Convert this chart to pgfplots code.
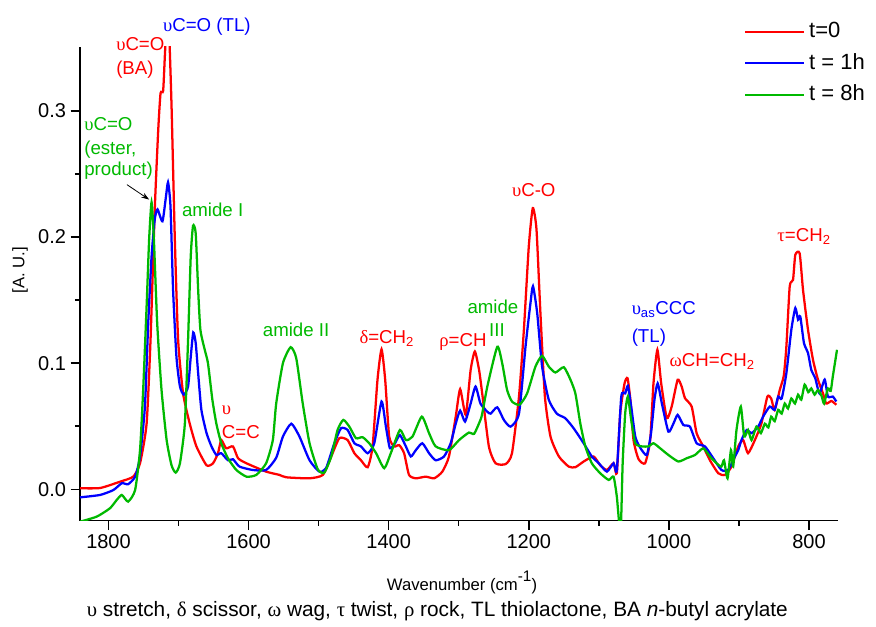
\documentclass[border=0pt]{standalone}
\usepackage{fontspec}
\setmainfont{Liberation Sans}
\newfontfamily\grk{Liberation Serif}
\usepackage{pgfplots}
\pgfplotsset{compat=1.18}
\usetikzlibrary{arrows.meta}
\definecolor{cred}{RGB}{255,0,0}
\definecolor{cblue}{RGB}{0,0,255}
\definecolor{cgreen}{RGB}{0,185,0}
\begin{document}
\begin{tikzpicture}
\begin{axis}[
  at={(0,0)}, anchor=south west,
  scale only axis, width=568.5pt, height=355.5pt,
  x dir=reverse,
  xmin=758.6, xmax=1840.7, ymin=-0.0249, ymax=0.351,
  axis x line*=bottom, axis y line*=left,
  axis line style={line width=1.1pt},
  every tick/.style={line width=1.1pt, black},
  tick align=outside, major tick length=7pt, minor tick length=3.8pt,
  xtick={800,1000,1200,1400,1600,1800},
  minor xtick={900,1100,1300,1500,1700},
  ytick={0,0.1,0.2,0.3},
  minor ytick={0.05,0.15,0.25},
  /pgf/number format/assume math mode=true,
  xticklabel style={font=\fontsize{15}{15}\selectfont, /pgf/number format/1000 sep={}},
  yticklabel style={font=\fontsize{15}{15}\selectfont, /pgf/number format/.cd, fixed, fixed zerofill, precision=1},
  xlabel={Wavenumber (cm\raisebox{1.0ex}{\fontsize{11.5}{11.5}\selectfont -1})},
  xlabel style={font=\fontsize{12.5}{12.5}\selectfont, at={(axis description cs:0.504,-0.147)}, anchor=base},
  ylabel={[A. U.]},
  ylabel style={font=\fontsize{12.5}{12.5}\selectfont, at={(axis description cs:-0.0792,0.529)}, anchor=center, rotate=0},
  clip mode=individual,
  every axis plot/.append style={smooth, tension=0.35, line width=1.7pt},
  legend style={draw=none, fill=none, at={(rel axis cs:0.8707,1.0669)}, anchor=north west,
    font=\fontsize{16.5}{16.5}\selectfont, row sep=2.6pt,
    nodes={inner sep=3pt, text height=12pt, text depth=3pt}},
  legend cell align=left,
  legend image code/.code={\draw[#1] (0pt,0pt) -- (44pt,0pt);},
]
\addplot[cred] coordinates {
(1840.6,0.0008) (1812,0.001) (1783.6,0.006) (1764.7,0.010) (1755,0.0206) (1745.6,0.052)
(1740,0.1185) (1733.8,0.224) (1729,0.285) (1725.7,0.314) (1722,0.316) (1719.6,0.343)
(1717,0.37) (1714,0.37) (1710,0.304) (1705.3,0.198) (1700.6,0.1185) (1693.5,0.076)
(1684,0.052) (1674.5,0.034) (1660,0.019) (1650.8,0.0206) (1643.7,0.0286) (1639,0.039)
(1632,0.0325) (1622.3,0.034) (1615,0.0246) (1603,0.0206) (1575,0.014) (1556,0.0114)
(1546.3,0.0095) (1513,0.0087) (1494,0.0114) (1482,0.026) (1470.5,0.0405) (1458.6,0.039)
(1449,0.0286) (1439.6,0.023) (1430,0.0175) (1423,0.034) (1416,0.0868) (1410.2,0.111)
(1405,0.0868) (1399.3,0.0418) (1392,0.034) (1385,0.035) (1378,0.0286) (1371,0.0114)
(1361.3,0.0087) (1347,0.010) (1335,0.0087) (1323.4,0.014) (1314,0.026) (1304.3,0.0576)
(1298,0.0794) (1290,0.059) (1283,0.0947) (1277,0.1093) (1271,0.0947) (1266.5,0.076)
(1257,0.034) (1247.4,0.0206) (1233,0.020) (1224,0.0286) (1214,0.0735) (1207,0.1265)
(1200,0.1926) (1194.3,0.223) (1189,0.206) (1183.4,0.1397) (1177,0.0735) (1169,0.0418)
(1157,0.026) (1143,0.018) (1133.5,0.0175) (1121.7,0.022) (1107.5,0.026) (1098,0.019)
(1088.5,0.0153) (1079,0.0206) (1074.3,0.0127) (1069.5,0.060) (1063.3,0.084) (1059,0.088)
(1055,0.071) (1050.5,0.039) (1043.4,0.024) (1034,0.0206) (1026.7,0.039) (1022,0.084)
(1016.4,0.1106) (1011,0.084) (1003,0.0564) (996,0.0656) (987.5,0.0868) (981.8,0.0815)
(977,0.0722) (967.5,0.0656) (960.4,0.0445) (951,0.034) (941.4,0.023) (929.5,0.0127)
(920,0.0114) (910.6,0.018) (901,0.034) (894,0.039) (887,0.0286) (877.3,0.039)
(868,0.052) (859.4,0.0735) (854,0.072) (849,0.063) (841.7,0.0788) (836,0.09)
(832.3,0.113) (827.5,0.161) (822.8,0.166) (819.5,0.186) (813.3,0.187) (808.5,0.158)
(801.4,0.1265) (794.3,0.1027) (787.2,0.087) (780,0.076) (775.4,0.068) (768,0.070) (761,0.067)
};
\addlegendentry{t=0}
\addplot[cblue] coordinates {
(1840.6,-0.0064) (1812,-0.0045) (1793,-0.0006) (1781,0.0048) (1772,0.004) (1762,0.010)
(1755,0.026) (1748,0.0656) (1743.3,0.1318) (1738.5,0.1847) (1734,0.214) (1730,0.222)
(1723,0.2125) (1718,0.232) (1715,0.2435) (1711.5,0.2244) (1707.8,0.158) (1703,0.105)
(1698,0.0815) (1692.5,0.075) (1686.4,0.0815) (1682.6,0.105) (1679,0.1244) (1675.5,0.116)
(1672,0.092) (1667.4,0.063) (1660,0.0445) (1653,0.034) (1646,0.0272) (1639,0.0286)
(1629.5,0.023) (1622.3,0.0238) (1613,0.018) (1594,0.0153) (1575,0.0153) (1560.6,0.025)
(1551,0.0418) (1539,0.052) (1527.4,0.0418) (1513,0.023) (1499,0.014) (1489.4,0.0167)
(1477.6,0.0365) (1468,0.0484) (1458.6,0.047) (1449,0.0365) (1439.6,0.034) (1430,0.0286)
(1420.6,0.0365) (1410.2,0.0696) (1404,0.0497) (1398.3,0.0325) (1391,0.0365) (1384,0.043)
(1375.5,0.034) (1368.4,0.026) (1361.3,0.031) (1352,0.0365) (1342.4,0.0286) (1333,0.023)
(1321,0.026) (1311.5,0.0365) (1304.3,0.052) (1298,0.0624) (1291,0.0537) (1283,0.068)
(1276,0.0815) (1269,0.068) (1259.4,0.0616) (1254.5,0.060) (1245,0.065) (1235.6,0.055)
(1226,0.0497) (1214,0.060) (1204.7,0.113) (1197.6,0.1477) (1194,0.161) (1188,0.1397)
(1181,0.0973) (1171.5,0.071) (1160,0.060) (1148,0.0564) (1136,0.0484) (1121.7,0.0365)
(1110,0.026) (1100,0.0206) (1088.5,0.014) (1079,0.0206) (1074.3,0.0153) (1068,0.0735)
(1062.4,0.076) (1058.6,0.082) (1053.8,0.0656) (1048,0.0418) (1041,0.033) (1031.6,0.0272)
(1025.5,0.0445) (1020.6,0.071) (1016,0.084) (1010,0.068) (1000.7,0.0457) (993.6,0.052)
(987.5,0.059) (979.4,0.051) (970,0.0497) (960.4,0.0365) (948.5,0.034) (936.7,0.0246)
(925,0.0153) (915.3,0.0153) (905.8,0.026) (901,0.031) (896.4,0.039) (889,0.047)
(882,0.0445) (872.6,0.0497) (865.5,0.0576) (856,0.0656) (849,0.063) (844,0.0735)
(839,0.072) (832.3,0.092) (825.2,0.1265) (819.5,0.1437) (815.6,0.1345) (812.4,0.137)
(807.2,0.116) (801.4,0.108) (796.7,0.0947) (791,0.088) (785,0.076) (777.6,0.087)
(773,0.0735) (766,0.0735) (761,0.0696)
};
\addlegendentry{t = 1h}
\addplot[cgreen] coordinates {
(1840.6,-0.0257) (1816.8,-0.0217) (1798,-0.0151) (1788.3,-0.0085) (1781,-0.0045) (1772,-0.0098)
(1762,-0.0006) (1755,0.031) (1750.5,0.0788) (1745.6,0.145) (1742,0.198) (1738.5,0.2276)
(1735.2,0.198) (1730.5,0.1318) (1724.3,0.0788) (1717,0.039) (1710,0.019) (1704,0.0132)
(1698,0.0206) (1691,0.052) (1686.4,0.1185) (1682.6,0.1847) (1679.3,0.209) (1675.5,0.203)
(1672,0.158) (1668.8,0.1265) (1662.6,0.1106) (1658,0.100) (1651.7,0.071) (1646,0.052)
(1639,0.0365) (1629.5,0.0246) (1617.5,0.0153) (1603,0.010) (1589,0.0114) (1575,0.0206)
(1565.4,0.039) (1560.6,0.068) (1551,0.100) (1540,0.1127) (1532,0.104) (1522.7,0.068)
(1513,0.0365) (1501.3,0.0159) (1492,0.0132) (1482,0.026) (1473,0.047) (1464.8,0.055)
(1456.2,0.0497) (1446.7,0.0405) (1437.3,0.0413) (1427.8,0.0365) (1418,0.0286) (1406.4,0.0167)
(1397,0.0286) (1384,0.047) (1375.5,0.039) (1366,0.0418) (1352.7,0.0576) (1342.4,0.0445)
(1333,0.034) (1314,0.031) (1299.6,0.039) (1285.4,0.045) (1278,0.044) (1269,0.055)
(1266.5,0.060) (1259,0.082) (1245,0.113) (1238,0.100) (1231,0.0788) (1224,0.0696)
(1213.3,0.067) (1202.4,0.076) (1190.5,0.0973) (1181,0.1058) (1171.5,0.0973) (1162,0.0926)
(1150,0.0968) (1140.6,0.087) (1133.5,0.076) (1126.4,0.052) (1119.3,0.034) (1110,0.0206)
(1098,0.0127) (1086,0.0074) (1079,0.010) (1074.3,-0.006) (1069,-0.035) (1066,0.0206)
(1062.4,0.060) (1058.6,0.0735) (1053.8,0.055) (1048,0.0365) (1038.7,0.034) (1029,0.034)
(1022,0.0365) (1012.5,0.0325) (1000.7,0.0272) (986.5,0.022) (974.7,0.0246) (962.7,0.0272)
(951,0.0325) (941.4,0.026) (932,0.0206) (925,0.018) (921.3,0.023) (916.3,0.0087)
(911.4,0.031) (908.2,0.018) (903.5,0.047) (897.3,0.0656) (892.5,0.0418) (887,0.047)
(882,0.039) (875,0.0497) (868.7,0.0445) (863,0.052) (858,0.049) (854,0.0576) (849,0.054)
(844,0.063) (839,0.060) (834.6,0.068) (830,0.064) (825.2,0.072) (820,0.068) (815.6,0.075)
(811,0.071) (806.2,0.083) (801,0.077) (796.7,0.080) (792,0.075) (787.2,0.0788) (782,0.074)
(778.5,0.068) (773,0.080) (769,0.078) (766,0.0894) (760,0.1106)
};
\addlegendentry{t = 8h}
% annotations
\node[cred, anchor=base west, inner sep=0pt, font=\fontsize{14}{14}\selectfont] at (axis cs:1789.3,0.3483) {{\grk υ}C=O};
\node[cred, anchor=base west, inner sep=0pt, font=\fontsize{14}{14}\selectfont] at (axis cs:1789.3,0.3289) {(BA)};
\node[cblue, anchor=base west, inner sep=0pt, font=\fontsize{14}{14}\selectfont] at (axis cs:1722.4,0.3630) {{\grk υ}C=O (TL)};
\node[cgreen, anchor=base west, inner sep=0pt, font=\fontsize{14}{14}\selectfont] at (axis cs:1834.9,0.2847) {{\grk υ}C=O};
\node[cgreen, anchor=base west, inner sep=0pt, font=\fontsize{14}{14}\selectfont] at (axis cs:1834.9,0.2654) {(ester,};
\node[cgreen, anchor=base west, inner sep=0pt, font=\fontsize{14}{14}\selectfont] at (axis cs:1834.9,0.2488) {product)};
\draw[black, line width=0.6pt, -{Stealth[length=6pt,width=4pt]}] (axis cs:1773.7,0.2416) -- (axis cs:1741.9,0.2297);
\node[cgreen, anchor=base west, inner sep=0pt, font=\fontsize{14}{14}\selectfont] at (axis cs:1695.4,0.2164) {amide I};
\node[cred, anchor=base west, inner sep=0pt, font=\fontsize{14}{14}\selectfont] at (axis cs:1638.4,0.059) {{\grk υ}};
\node[cred, anchor=base west, inner sep=0pt, font=\fontsize{14}{14}\selectfont] at (axis cs:1638.4,0.0405) {C=C};
\node[cgreen, anchor=base west, inner sep=0pt, font=\fontsize{14}{14}\selectfont] at (axis cs:1580,0.1212) {amide II};
\node[cred, anchor=base west, inner sep=0pt, font=\fontsize{14}{14}\selectfont] at (axis cs:1442,0.1154) {{\grk δ}=CH\textsubscript{2}};
\node[cred, anchor=base west, inner sep=0pt, font=\fontsize{14}{14}\selectfont] at (axis cs:1328,0.1132) {{\grk ρ}=CH};
\node[cgreen, anchor=base, inner sep=0pt, font=\fontsize{14}{14}\selectfont] at (axis cs:1251.2,0.1397) {amide};
\node[cgreen, anchor=base, inner sep=0pt, font=\fontsize{14}{14}\selectfont] at (axis cs:1245.5,0.1212) {III};
\node[cred, anchor=base, inner sep=0pt, font=\fontsize{14}{14}\selectfont] at (axis cs:1192.9,0.2323) {{\grk υ}C-O};
\node[cblue, anchor=base west, inner sep=0pt, font=\fontsize{14}{14}\selectfont] at (axis cs:1053.4,0.1384) {{\grk υ}\textsubscript{as}CCC};
\node[cblue, anchor=base west, inner sep=0pt, font=\fontsize{14}{14}\selectfont] at (axis cs:1053.4,0.1162) {(TL)};
\node[cred, anchor=base west, inner sep=0pt, font=\fontsize{14}{14}\selectfont] at (axis cs:999.3,0.0973) {{\grk ω}CH=CH\textsubscript{2}};
\node[cred, anchor=base west, inner sep=0pt, font=\fontsize{14}{14}\selectfont] at (axis cs:845.5,0.1966) {{\grk τ}=CH\textsubscript{2}};
\end{axis}
\node[anchor=base, inner sep=0pt, font=\fontsize{15.6}{15.6}\selectfont] at (268pt,-72.2pt)
  {{\grk υ} stretch, {\grk δ} scissor, {\grk ω} wag, {\grk τ} twist, {\grk ρ} rock, TL thiolactone, BA \textit{n}-butyl acrylate};
\path (-60pt,-79pt) rectangle (597pt,390.5pt);
\end{tikzpicture}
\end{document}
